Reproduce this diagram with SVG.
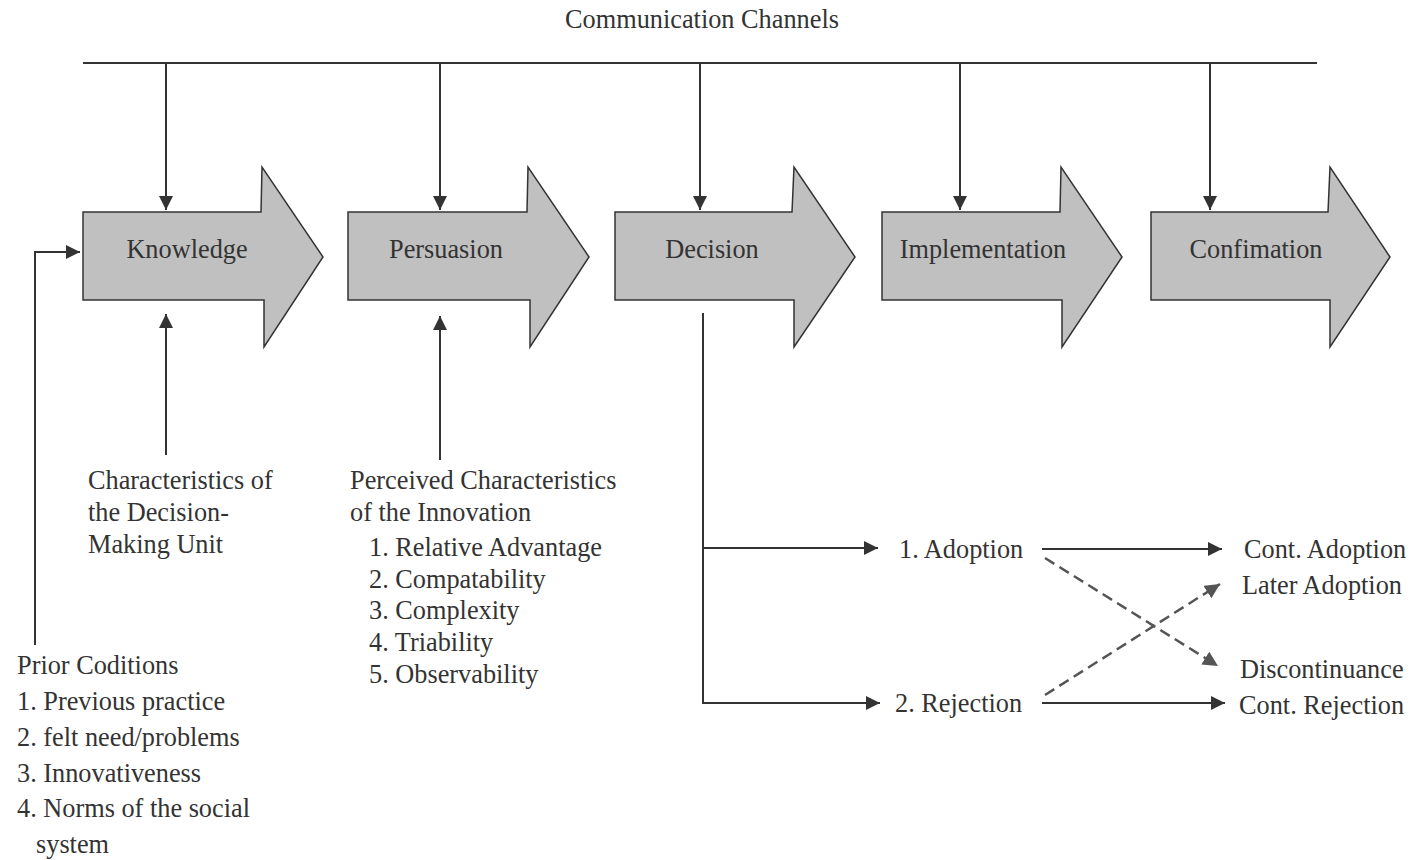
<svg xmlns="http://www.w3.org/2000/svg" width="1412" height="860" viewBox="0 0 1412 860">
<style>
  text { font-family: "Liberation Serif", "Times New Roman", serif; font-size: 26.3px; fill: #333; }
  .stage { fill: #c0c0c0; stroke: #333; stroke-width: 1.5; }
  .ln { stroke: #333; stroke-width: 2; fill: none; }
  .dash { stroke: #555; stroke-width: 2.5; fill: none; stroke-dasharray: 11 6; }
  .mid { text-anchor: middle; }
</style>
<defs>
  <marker id="ah" viewBox="0 0 10 10" refX="10" refY="5" markerWidth="14" markerHeight="14" markerUnits="userSpaceOnUse" orient="auto">
    <path d="M0,0 L10,5 L0,10 z" fill="#333"/>
  </marker>
  <marker id="ahg" viewBox="0 0 10 10" refX="10" refY="5" markerWidth="15" markerHeight="15" markerUnits="userSpaceOnUse" orient="auto">
    <path d="M0,0 L10,5 L0,10 z" fill="#555"/>
  </marker>
</defs>

<text class="mid" x="702" y="28">Communication Channels</text>

<!-- stages -->
<g id="knowledge">
  <path class="stage" d="M83,212 L261,212 L262,167 L323,257 L264,347 L264,300 L83,300 Z"/>
  <text class="mid" x="187" y="258">Knowledge</text>
</g>
<g id="persuasion">
  <path class="stage" d="M348,212 L527,212 L528,167 L589,257 L530,347 L530,300 L348,300 Z"/>
  <text class="mid" x="446" y="258">Persuasion</text>
</g>
<g id="decision">
  <path class="stage" d="M615,212 L792,212 L794,167 L855,257 L794,347 L794,300 L615,300 Z"/>
  <text class="mid" x="712" y="258">Decision</text>
</g>
<g id="implementation">
  <path class="stage" d="M882,212 L1060,212 L1061,167 L1122,257 L1062,347 L1062,300 L882,300 Z"/>
  <text class="mid" x="983" y="258">Implementation</text>
</g>
<g id="confirmation">
  <path class="stage" d="M1151,212 L1328,212 L1330,167 L1390,257 L1330,347 L1330,300 L1151,300 Z"/>
  <text class="mid" x="1256" y="258">Confimation</text>
</g>

<!-- labels -->
<g id="decision-unit">
  <text x="88" y="489">Characteristics of</text>
  <text x="88" y="521">the Decision-</text>
  <text x="88" y="553">Making Unit</text>
</g>
<g id="innovation-characteristics">
  <text x="350" y="489">Perceived Characteristics</text>
  <text x="350" y="521">of the Innovation</text>
  <text x="369" y="556">1. Relative Advantage</text>
  <text x="369" y="588">2. Compatability</text>
  <text x="369" y="619">3. Complexity</text>
  <text x="369" y="651">4. Triability</text>
  <text x="369" y="683">5. Observability</text>
</g>
<g id="prior-conditions">
  <text x="17" y="674">Prior Coditions</text>
  <text x="17" y="710">1. Previous practice</text>
  <text x="17" y="746">2. felt need/problems</text>
  <text x="17" y="782">3. Innovativeness</text>
  <text x="17" y="817">4. Norms of the social</text>
  <text x="36" y="853">system</text>
</g>
<g id="adoption"><text x="899" y="558">1. Adoption</text></g>
<g id="rejection"><text x="895" y="712">2. Rejection</text></g>
<g id="cont-adoption"><text x="1244" y="558">Cont. Adoption</text></g>
<g id="later-adoption"><text x="1242" y="594">Later Adoption</text></g>
<g id="discontinuance"><text x="1240" y="678">Discontinuance</text></g>
<g id="cont-rejection"><text x="1239" y="714">Cont. Rejection</text></g>

<!-- connectors -->
<g id="connectors">
  <line class="ln" x1="83" y1="63" x2="1317" y2="63"/>
  <line class="ln" x1="166" y1="63" x2="166" y2="210" marker-end="url(#ah)"/>
  <line class="ln" x1="440" y1="63" x2="440" y2="210" marker-end="url(#ah)"/>
  <line class="ln" x1="700" y1="63" x2="700" y2="210" marker-end="url(#ah)"/>
  <line class="ln" x1="960" y1="63" x2="960" y2="210" marker-end="url(#ah)"/>
  <line class="ln" x1="1210" y1="63" x2="1210" y2="210" marker-end="url(#ah)"/>

  <line class="ln" x1="166" y1="455" x2="166" y2="314" marker-end="url(#ah)"/>
  <line class="ln" x1="440" y1="460" x2="440" y2="316" marker-end="url(#ah)"/>

  <polyline class="ln" points="35,645 35,252 80,252" marker-end="url(#ah)"/>

  <line class="ln" x1="703" y1="313" x2="703" y2="704"/>
  <line class="ln" x1="703" y1="548" x2="878" y2="548" marker-end="url(#ah)"/>
  <line class="ln" x1="703" y1="703" x2="880" y2="703" marker-end="url(#ah)"/>

  <line class="ln" x1="1042" y1="549" x2="1222" y2="549" marker-end="url(#ah)"/>
  <line class="ln" x1="1042" y1="703" x2="1225" y2="703" marker-end="url(#ah)"/>

  <line class="dash" x1="1045" y1="558" x2="1218" y2="666" marker-end="url(#ahg)"/>
  <line class="dash" x1="1045" y1="695" x2="1220" y2="584" marker-end="url(#ahg)"/>
</g>
</svg>
